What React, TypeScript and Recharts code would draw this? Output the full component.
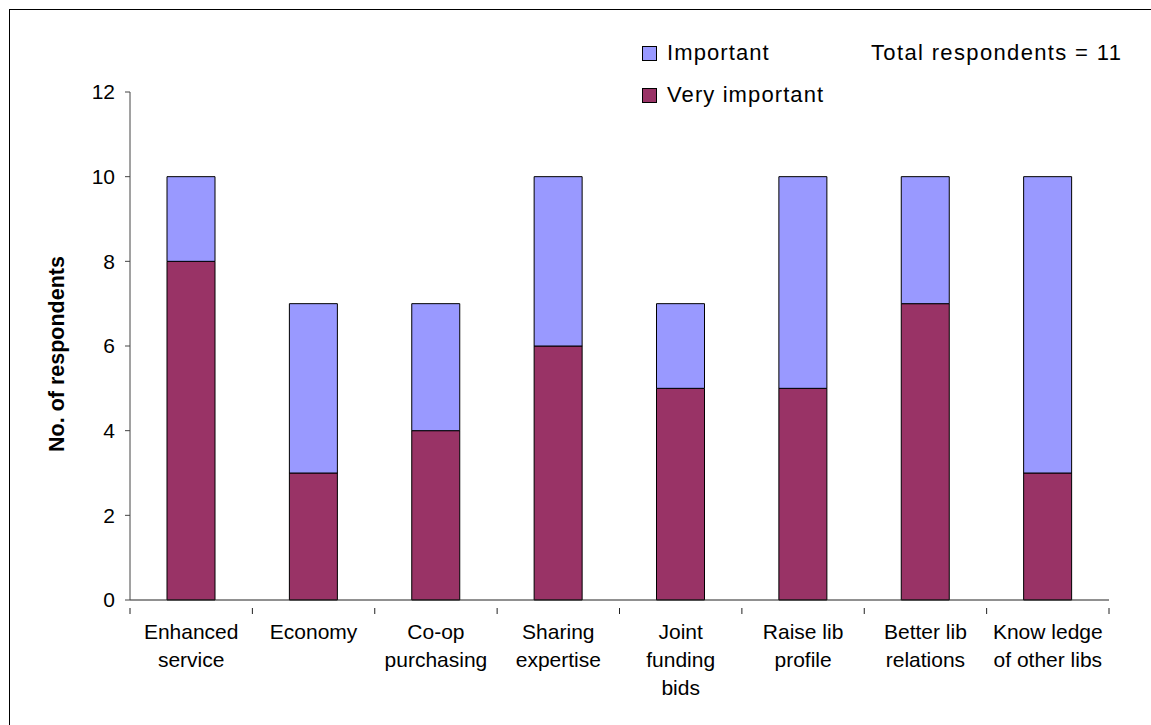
import React from "react";
import { BarChart, Bar, XAxis, YAxis } from "recharts";

const categories = [
  "Enhanced\nservice",
  "Economy",
  "Co-op\npurchasing",
  "Sharing\nexpertise",
  "Joint\nfunding\nbids",
  "Raise lib\nprofile",
  "Better lib\nrelations",
  "Know ledge\nof other libs",
];
const veryImportant = [8, 3, 4, 6, 5, 5, 7, 3];
const important = [2, 4, 3, 4, 2, 5, 3, 7];
const yTicks = [0, 2, 4, 6, 8, 10, 12];
const legendItems = [
  { label: "Important", color: "#9999FF" },
  { label: "Very important", color: "#993366" },
];

const data = categories.map((c, i) => ({
  name: c,
  veryImportant: veryImportant[i],
  important: important[i],
}));

const FONT = '"Liberation Sans", Arial, sans-serif';
const FS = 21;

const CategoryTick = (props: any) => {
  const { x, y, payload, index, visibleTicksCount, width } = props;
  const half =
    payload && typeof payload.offset === "number" && payload.offset > 0
      ? payload.offset
      : width / (visibleTicksCount || 8) / 2;
  const lines = String(payload.value).split("\n");
  const isLast = index === (visibleTicksCount || 8) - 1;
  return (
    <g>
      <line x1={x - half} x2={x - half} y1={y} y2={y + 6} stroke="#222" strokeWidth={1} />
      {isLast && (
        <line x1={x + half} x2={x + half} y1={y} y2={y + 6} stroke="#222" strokeWidth={1} />
      )}
      <text x={x} y={y + 31} textAnchor="middle" fontFamily={FONT} fontSize={FS} fill="#000">
        {lines.map((l: string, i: number) => (
          <tspan key={i} x={x} dy={i === 0 ? 0 : 28}>
            {l}
          </tspan>
        ))}
      </text>
    </g>
  );
};

export default function App() {
  return (
    <div style={{ position: "absolute", left: 0, top: 0, width: 1151, height: 725, background: "#fff", overflow: "hidden" }}>
      <div
        style={{
          position: "absolute",
          left: 9,
          top: 9,
          width: 1200,
          height: 800,
          borderLeft: "1.5px solid #000",
          borderTop: "1.5px solid #000",
        }}
      />
      <div style={{ position: "absolute", left: 642, top: 32, fontFamily: FONT, fontSize: 22, letterSpacing: 1.1, color: "#000" }}>
        {legendItems.map((it) => (
          <div key={it.label} style={{ display: "flex", alignItems: "center", height: 42, whiteSpace: "nowrap" }}>
            <span
              style={{
                display: "inline-block",
                width: 13,
                height: 13,
                background: it.color,
                border: "1px solid #000",
                marginRight: 10,
              }}
            />
            <span>{it.label}</span>
          </div>
        ))}
      </div>
      <div
        style={{
          position: "absolute",
          left: 871,
          top: 40,
          fontFamily: FONT,
          fontSize: 22,
          letterSpacing: 1.35,
          color: "#000",
          whiteSpace: "nowrap",
        }}
      >
        Total respondents = 11
      </div>
      <div style={{ position: "absolute", left: 0, top: 0 }}>
        <BarChart
          width={1151}
          height={725}
          data={data}
          margin={{ top: 92, right: 42, bottom: 0, left: 0 }}
          barSize={48}
        >
          <XAxis
            dataKey="name"
            height={125}
            interval={0}
            tickLine={false}
            axisLine={{ stroke: "#222", strokeWidth: 1 }}
            tick={<CategoryTick />}
          />
          <YAxis
            width={130}
            domain={[0, 12]}
            ticks={yTicks}
            tickSize={5}
            tickMargin={10}
            interval={0}
            axisLine={{ stroke: "#444", strokeWidth: 1 }}
            tickLine={{ stroke: "#444" }}
            tick={{ fill: "#000", fontSize: FS, fontFamily: FONT }}
            label={{
              value: "No. of respondents",
              angle: -90,
              position: "insideLeft",
              dx: 51,
              dy: 8,
              style: { textAnchor: "middle", fontFamily: FONT, fontSize: 21.5, fontWeight: "bold", fill: "#000" },
            }}
          />
          <Bar dataKey="veryImportant" stackId="a" fill="#993366" stroke="#000" strokeWidth={1} isAnimationActive={false} />
          <Bar dataKey="important" stackId="a" fill="#9999FF" stroke="#000" strokeWidth={1} isAnimationActive={false} />
        </BarChart>
      </div>
    </div>
  );
}
